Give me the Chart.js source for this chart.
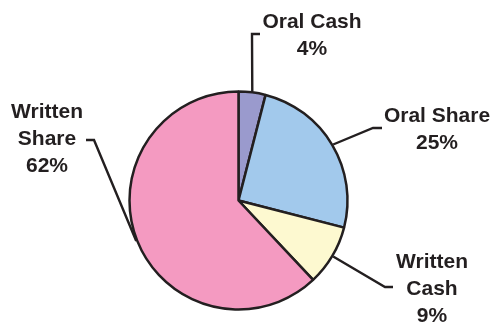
<!DOCTYPE html>
<html>
<head>
<meta charset="utf-8">
<script src="https://cdn.jsdelivr.net/npm/chart.js@4/dist/chart.umd.min.js"></script>
<style>
  html, body { margin: 0; padding: 0; background: #fff; }
  #wrap { width: 498px; height: 322px; }
</style>
</head>
<body>
<div id="wrap"><canvas id="pieChart"></canvas></div>
<script>
const categories = ['Oral Cash', 'Oral Share', 'Written Cash', 'Written Share'];
const shares = [4, 25, 9, 62];
const sliceColors = ['#9a9acd', '#a2c9ec', '#fdf9d0', '#f49ac1'];

// label text lines and leader line bends (pixel positions of the annotations)
const labelSpots = [
    { lines: ['Oral Cash', '4%'], x: 312, y: 28, bend: [[252, 34], [260, 34]] },
    { lines: ['Oral Share', '25%'], x: 437, y: 122, bend: [[373, 128], [382, 128]] },
    { lines: ['Written', 'Cash', '9%'], x: 432, y: 268, bend: [[385, 287], [393, 287]] },
    { lines: ['Written', 'Share', '62%'], x: 47, y: 118, bend: [[94, 140], [86, 140]] }
];

const leaderLabels = {
    id: 'leaderLabels',
    afterDatasetsDraw(chart) {
        const ctx = chart.ctx;
        const arcs = chart.getDatasetMeta(0).data;
        ctx.save();
        ctx.strokeStyle = '#231f20';
        ctx.lineWidth = 2.4;
        ctx.fillStyle = '#231f20';
        ctx.font = 'bold 21px "Liberation Sans", Arial, sans-serif';
        ctx.textAlign = 'center';
        ctx.textBaseline = 'alphabetic';
        arcs.forEach((arc, i) => {
            const spot = labelSpots[i];
            const p = arc.getProps(['x', 'y', 'startAngle', 'endAngle', 'outerRadius'], true);
            const mid = (p.startAngle + p.endAngle) / 2;
            const r = p.outerRadius + 1;
            ctx.beginPath();
            ctx.moveTo(p.x + Math.cos(mid) * r, p.y + Math.sin(mid) * r);
            spot.bend.forEach(pt => ctx.lineTo(pt[0], pt[1]));
            ctx.stroke();
            spot.lines.forEach((t, k) => ctx.fillText(t, spot.x, spot.y + k * 26.8));
        });
        ctx.restore();
    }
};

new Chart(document.getElementById('pieChart'), {
    type: 'pie',
    data: {
        labels: categories,
        datasets: [{
            data: shares,
            backgroundColor: sliceColors,
            borderColor: '#231f20',
            borderWidth: 2.5
        }]
    },
    options: {
        responsive: true,
        maintainAspectRatio: false,
        animation: false,
        radius: 109,
        layout: { padding: { left: 0, right: 21, top: 79, bottom: 0 } },
        plugins: {
            legend: { display: false },
            tooltip: { enabled: false }
        }
    },
    plugins: [leaderLabels]
});
</script>
</body>
</html>
